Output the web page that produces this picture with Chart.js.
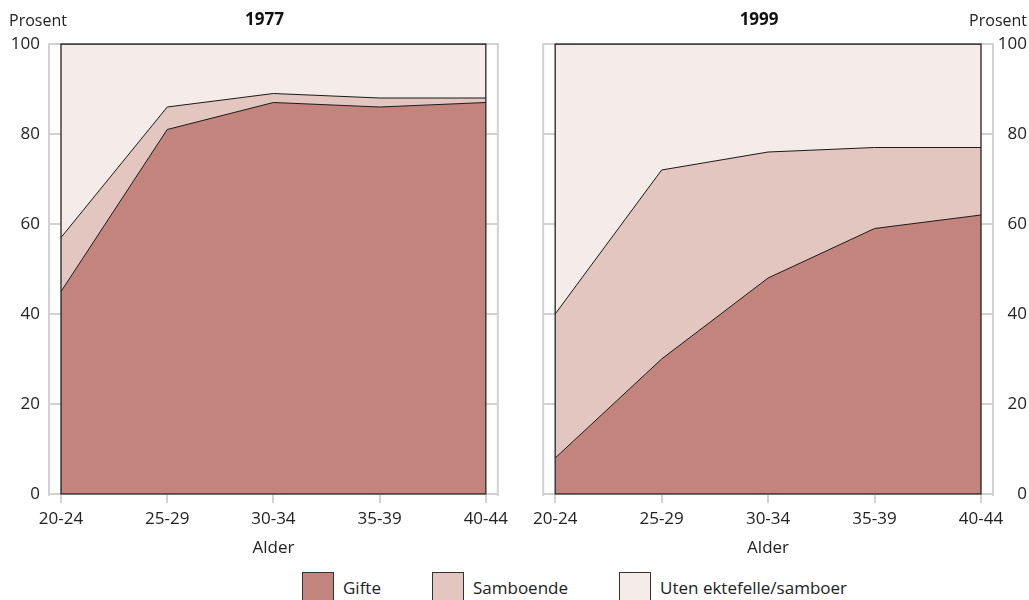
<!DOCTYPE html>
<html>
<head>
<meta charset="utf-8">
<script src="https://cdn.jsdelivr.net/npm/chart.js@4.4.1/dist/chart.umd.min.js"></script>
<style>
  html, body { margin: 0; padding: 0; background: #fff; }
  body { width: 1029px; height: 600px; position: relative; overflow: hidden; font-family: 'Open Sans', sans-serif; color: #222; }
  canvas { position: absolute; top: 0; }
  #c1977 { left: 0; }
  #c1999 { left: 518px; }
  #legend { position: absolute; left: 302px; top: 572px; display: flex; }
  .item { display: flex; align-items: flex-start; margin-right: 51px; }
  .box { height: 30px; border: 1px solid #333; box-sizing: border-box; width: 32px; }
  .lbl { margin-left: 9px; font-size: 17px; line-height: 28px; padding-top: 2px; white-space: nowrap; }
</style>
</head>
<body>
<canvas id="c1977" width="523" height="560"></canvas>
<canvas id="c1999" width="511" height="560"></canvas>
<div id="legend"></div>
<script>
// ---- data ----
const ageGroups = ['20-24', '25-29', '30-34', '35-39', '40-44'];
const panelTitles = ['1977', '1999'];
const seriesNames = ['Gifte', 'Samboende', 'Uten ektefelle/samboer'];
const gifte1977 = [45, 81, 87, 86, 87];
const samboende1977 = [12, 5, 2, 2, 1];
const uten1977 = [43, 14, 11, 12, 12];
const gifte1999 = [8, 30, 48, 59, 62];
const samboende1999 = [32, 42, 28, 18, 15];
const uten1999 = [60, 28, 24, 23, 23];
const yTickValues = [0, 20, 40, 60, 80, 100];
const yAxisLabel = 'Prosent';
const xAxisLabel = 'Alder';

// ---- styles ----
const fillColors = ['#c2847d', '#e3c6bf', '#f5ebe9'];
const lineColor = '#1a1a1a';
const axisGray = '#d2d2d2';
const FONT = "'Open Sans', sans-serif";

Chart.defaults.font.family = FONT;
Chart.defaults.font.size = 17;
Chart.defaults.color = '#222';

const decor = {
  id: 'decor',
  afterDraw(chart, args, opts) {
    const { ctx, chartArea: a, scales: { x, y } } = chart;
    ctx.save();
    ctx.strokeStyle = axisGray;
    ctx.lineWidth = 2;
    const lx = a.left - 12, rx = a.right + 12;
    ctx.beginPath();
    ctx.moveTo(lx, a.top - 1); ctx.lineTo(lx, a.bottom + 2);
    ctx.moveTo(rx, a.top - 1); ctx.lineTo(rx, a.bottom + 2);
    y.ticks.forEach(t => {
      const py = Math.round(y.getPixelForValue(t.value));
      ctx.moveTo(lx, py); ctx.lineTo(a.left, py);
      ctx.moveTo(a.right, py); ctx.lineTo(rx, py);
    });
    x.ticks.forEach((t, i) => {
      const px = Math.round(x.getPixelForValue(i));
      ctx.moveTo(px, a.bottom + 1); ctx.lineTo(px, a.bottom + 9);
    });
    ctx.stroke();
    ctx.strokeStyle = '#222';
    ctx.lineWidth = 1.3;
    ctx.strokeRect(a.left, a.top, a.right - a.left, a.bottom - a.top);
    // texts
    ctx.fillStyle = '#111';
    ctx.textBaseline = 'alphabetic';
    ctx.font = 'bold 17px ' + FONT;
    ctx.textAlign = 'center';
    ctx.fillText(opts.title, (a.left + a.right) / 2 - 9, 25);
    ctx.font = '16px ' + FONT;
    ctx.fillStyle = '#222';
    if (opts.side === 'left') {
      ctx.textAlign = 'left';
      ctx.fillText(yAxisLabel, 9, 26);
    } else {
      ctx.textAlign = 'right';
      ctx.fillText(yAxisLabel, chart.width - 2, 26);
    }
    ctx.restore();
  }
};

function makeChart(id, title, series, side) {
  const datasets = series.map((vals, i) => ({
    label: seriesNames[i],
    data: vals,
    backgroundColor: fillColors[i],
    borderColor: lineColor,
    borderWidth: 1,
    pointRadius: 0,
    tension: 0,
    fill: i === 0 ? 'origin' : '-1'
  }));
  return new Chart(document.getElementById(id), {
    type: 'line',
    data: { labels: ageGroups, datasets },
    plugins: [decor],
    options: {
      responsive: false,
      animation: false,
      events: [],
      layout: { padding: side === 'left' ? { top: 44, right: 37, left: 0, bottom: 0 } : { top: 44, right: 2, left: 37, bottom: 0 } },
      plugins: {
        legend: { display: false },
        tooltip: { enabled: false },
        decor: { title, side }
      },
      scales: {
        x: {
          offset: false,
          grid: { display: false, drawTicks: false },
          border: { display: false },
          ticks: { padding: 15, maxRotation: 0, autoSkip: false, color: '#222' },
          title: { display: true, text: xAxisLabel, padding: { top: 0, bottom: 2 }, color: '#222' },
          afterFit(s) { s.height = 66; }
        },
        y: {
          position: side,
          stacked: true,
          min: 0,
          max: 100,
          grid: { display: false, drawTicks: false },
          border: { display: false },
          afterBuildTicks(s) { s.ticks = yTickValues.map(v => ({ value: v })); },
          ticks: side === 'left' ? { padding: 21, color: '#222' } : { crossAlign: 'far', color: '#222' },
          afterFit(s) { s.width = side === 'left' ? 61 : 46; }
        }
      }
    }
  });
}

makeChart('c1977', panelTitles[0], [gifte1977, samboende1977, uten1977], 'left');
makeChart('c1999', panelTitles[1], [gifte1999, samboende1999, uten1999], 'right');

// legend
const legend = document.getElementById('legend');
seriesNames.forEach((name, i) => {
  const item = document.createElement('div');
  item.className = 'item';
  const box = document.createElement('div');
  box.className = 'box';
  box.style.background = fillColors[i];
  const lbl = document.createElement('span');
  lbl.className = 'lbl';
  lbl.textContent = name;
  item.appendChild(box);
  item.appendChild(lbl);
  legend.appendChild(item);
});
</script>
</body>
</html>
